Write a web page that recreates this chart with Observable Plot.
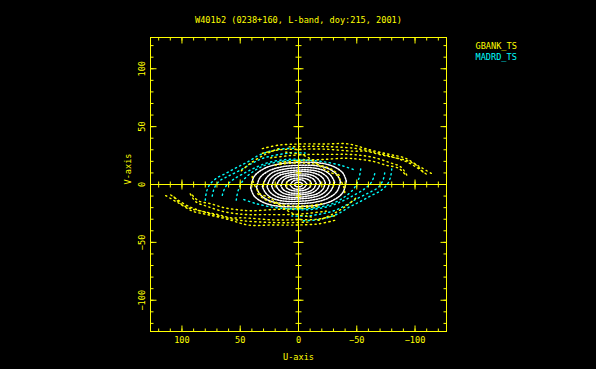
<!DOCTYPE html>
<html><head><meta charset="utf-8">
<script src="https://cdn.jsdelivr.net/npm/d3@7"></script>
<script src="https://cdn.jsdelivr.net/npm/@observablehq/plot@0.6"></script>
<style>html,body{margin:0;padding:0;background:#000;}#chart{width:596px;height:369px;overflow:hidden}</style>
</head><body><div id="chart"></div><script>
// ---- chart values ----
const chartTitle = "W401b2 (0238+160, L-band, doy:215, 2001)";
const seriesNames = ["GBANK_TS", "MADRD_TS"];
const axisLabels = ["U-axis", "V-axis"];
const tickLabelsU = [100, 50, 0, -50, -100];
const tickLabelsV = [-100, -50, 0, 50, 100];
const minorTicks = [-120,-110,-100,-90,-80,-70,-60,-50,-40,-30,-20,-10,0,10,20,30,40,50,60,70,80,90,100,110,120];
const majorTicks = [-100, -50, 0, 50, 100];

// UV tracks, one half of each; the other half is the conjugate (-u,-v)
const gbankTracks = [
  [[31,31],[17,34],[-1.5,35],[-23,35],[-43,35],[-61,30],[-78,26],[-91,23],[-103,16],[-115,9]],
  [[31,27],[16,30],[-1.5,30.5],[-23,30.5],[-47,28.8],[-58,28.8],[-69,26],[-81,23.5],[-92,21],[-101,16.7],[-107,10.6]],
  [[24,23],[7,25],[-10,26],[-27,26],[-43,26],[-55,25],[-66,23],[-78,19],[-88,15],[-94,6]],
  [[16,19],[-1.5,21],[-19,21.5],[-41,22.7],[-52,21.8],[-64,20],[-75,16.7],[-86,14],[-92,8]],
  [[11,28],[-6,24.5],[-21,14],[-27,10.5],[-33,8],[-36.5,3],[-39,-3],[-40,-9]],
  [[17,31],[28.5,26],[41,18.5],[50,11]],
  [[20,16.7],[7,18.4],[-6,18.4],[-18.6,16.7],[-29.7,12.4],[-35.7,7.2]],
  [[8,32.5],[-12,33],[-31,32.5],[-50,31],[-65,28],[-80,24],[-94,19],[-104,13],[-111,8]]
];
const madrdTracks = [
  [[80,-13.5],[79,-6.6],[76.5,-0.6],[70.5,5.4],[62,9.8],[52.5,15],[44,19.3],[35.4,24.5],[27,28],[15.7,30.5],[2.8,31.4]],
  [[74,-10],[72.3,-3.3],[68,2.9],[60.2,7.2],[50,12.4],[39.7,18.4],[30.3,22.7],[20,25.3],[7,27.2],[-5.7,27.2]],
  [[65.4,-9.3],[62.8,-2.3],[56.8,3.7],[48.2,8.9],[38,14.1],[27.7,18.4],[15.7,21],[2.8,21.9],[-10,21]],
  [[53.4,-13.5],[51.7,-4.9],[47.4,3.7],[39.7,10.6],[28.5,16.7],[14,20.1],[-1.5,21],[-18.6,20.1],[-35.7,16.7],[-48.6,12.4]]
];
const otherTracks = [
  [[41,-3],[38,7],[29,14],[15,18],[0,19],[-15,19],[-29,16],[-38,10],[-41,3]],
  [[36,-2.5],[33,6],[25,12],[13,15.5],[0,16.5],[-13,16.5],[-25,14],[-33,8.5],[-36,2.5]],
  [[31,-2],[28,5],[22,10.5],[11,13.5],[0,14.5],[-11,14.5],[-22,12],[-28,7.5],[-31,2]],
  [[27,-2],[24.5,4.5],[19,9],[10,11.5],[0,12.5],[-10,12.5],[-19,10.5],[-24.5,6.5],[-27,2]],
  [[23,-1.5],[21,4],[16,8],[8,10],[0,11],[-8,11],[-16,9],[-21,5.5],[-23,1.5]],
  [[19,-1.5],[17,3],[13,6.5],[7,8.3],[0,9],[-7,9],[-13,7.5],[-17,4.5],[-19,1.5]],
  [[15,-1],[13.5,3],[10.5,5.5],[5.5,7],[0,7.5],[-5.5,7.5],[-10.5,6],[-13.5,4],[-15,1]],
  [[11,-1],[10,2],[7.5,4],[4,5.2],[0,5.5],[-4,5.5],[-7.5,4.5],[-10,3],[-11,1]],
  [[7,-0.5],[6,1.5],[4.5,3],[2.5,3.8],[0,4],[-2.5,4],[-4.5,3.3],[-6,2],[-7,0.5]],
  [[3.5,0],[2.5,1.5],[0,2],[-2.5,1.5],[-3.5,0]]
];

// ---- build table ----
function buildRows(series, tracks) {
  const rows = [];
  tracks.forEach((pts, i) => {
    pts.forEach(([u, v]) => rows.push({series, track: series + i, u, v}));
    pts.forEach(([u, v]) => rows.push({series, track: series + i + "c", u: -u, v: -v}));
  });
  return rows;
}
const gbankRows = buildRows("GBANK_TS", gbankTracks);
const madrdRows = buildRows("MADRD_TS", madrdTracks);
const otherRows = buildRows("other", otherTracks);

const YEL = "#ffff00", CYA = "#00ffff", WHI = "#ffffff";
const FONT = "DejaVu Sans Mono", FS = 8.6;

const seg = (x0, y0, x1, y1) => ({draw(ctx, size) {
  const r = Math.sqrt(size / Math.PI);
  ctx.moveTo(x0 * r, y0 * r); ctx.lineTo(x1 * r, y1 * r);
}});
const tickDown = seg(0,0,0,1), tickUp = seg(0,0,0,-1), tickRight = seg(0,0,1,0),
      tickLeft = seg(0,0,-1,0), tickV = seg(0,-1,0,1), tickH = seg(-1,0,1,0);
const tk = (sym, r) => ({symbol: sym, r, stroke: YEL, fill: "none", strokeWidth: 1});

const trackLine = (rows, color, dash, w) => Plot.line(rows, {
  x: "u", y: "v", z: "track", stroke: color, strokeWidth: w,
  strokeDasharray: dash, curve: "catmull-rom"
});

const chart = Plot.plot({
  width: 596, height: 369,
  marginLeft: 150, marginRight: 150, marginTop: 37, marginBottom: 38,
  x: {domain: [127, -127]},
  y: {domain: [-127, 127]},
  style: {background: "#000", color: YEL, fontFamily: FONT, fontSize: FS + "px"},
  marks: [
    trackLine(otherRows, WHI, "1.5 1.3", 1.5),
    trackLine(madrdRows, CYA, "1.3 3.4", 1.4),
    trackLine(gbankRows, YEL, "1.3 3.4", 1.4),
    Plot.ruleX([0], {stroke: YEL}),
    Plot.ruleY([0], {stroke: YEL}),
    Plot.frame({stroke: YEL}),
    // frame ticks (inside)
    Plot.dot(minorTicks, {x: d => d, frameAnchor: "top", ...tk(tickDown, 3)}),
    Plot.dot(majorTicks, {x: d => d, frameAnchor: "top", ...tk(tickDown, 6)}),
    Plot.dot(minorTicks, {x: d => d, frameAnchor: "bottom", ...tk(tickUp, 3)}),
    Plot.dot(majorTicks, {x: d => d, frameAnchor: "bottom", ...tk(tickUp, 6)}),
    Plot.dot(minorTicks, {y: d => d, frameAnchor: "left", ...tk(tickRight, 3)}),
    Plot.dot(majorTicks, {y: d => d, frameAnchor: "left", ...tk(tickRight, 6)}),
    Plot.dot(minorTicks, {y: d => d, frameAnchor: "right", ...tk(tickLeft, 3)}),
    Plot.dot(majorTicks, {y: d => d, frameAnchor: "right", ...tk(tickLeft, 6)}),
    // ticks on the zero lines
    Plot.dot(minorTicks, {x: d => d, y: () => 0, ...tk(tickV, 3)}),
    Plot.dot(majorTicks, {x: d => d, y: () => 0, ...tk(tickV, 5)}),
    Plot.dot(minorTicks, {x: () => 0, y: d => d, ...tk(tickH, 3)}),
    Plot.dot(majorTicks, {x: () => 0, y: d => d, ...tk(tickH, 5)}),
    // tick labels
    Plot.axisX(tickLabelsU, {anchor: "bottom", tickSize: 0, tickPadding: 5, color: YEL, fontSize: FS, fontFamily: FONT, label: null}),
    Plot.axisY(tickLabelsV, {anchor: "left", tickSize: 0, tickPadding: 8, rotate: -90, textAnchor: "middle", color: YEL, fontSize: FS, fontFamily: FONT, label: null}),
    // axis titles, title and legend
    Plot.text([axisLabels[0]], {text: d => d, frameAnchor: "bottom", dy: 28, fill: YEL, fontSize: FS, fontFamily: FONT}),
    Plot.text([axisLabels[1]], {text: d => d, frameAnchor: "left", dx: -22, rotate: -90, fill: YEL, fontSize: FS, fontFamily: FONT}),
    Plot.text([chartTitle], {text: d => d, frameAnchor: "top", dy: -21, fill: YEL, fontSize: FS, fontFamily: FONT}),
    Plot.text([seriesNames[0]], {text: d => d, frameAnchor: "top-right", dx: 29, dy: 5, textAnchor: "start", fill: YEL, fontSize: FS, fontFamily: FONT}),
    Plot.text([seriesNames[1]], {text: d => d, frameAnchor: "top-right", dx: 29, dy: 16, textAnchor: "start", fill: CYA, fontSize: FS, fontFamily: FONT})
  ]
});
document.getElementById("chart").appendChild(chart);
</script></body></html>
